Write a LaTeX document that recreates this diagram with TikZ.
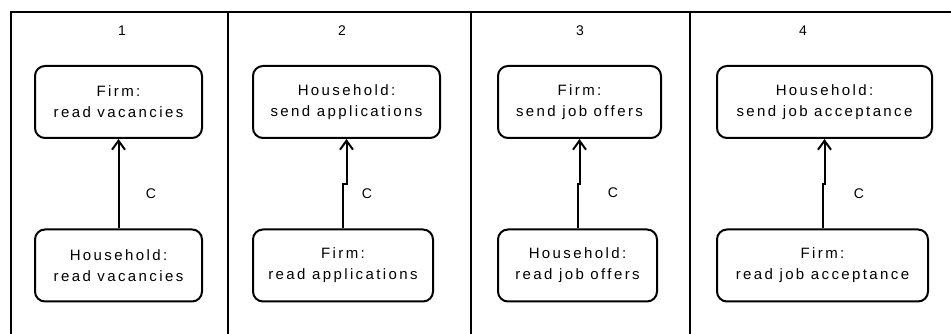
\documentclass[tikz,border=0pt]{standalone}
\usepackage{fontspec}
\setmainfont{Liberation Sans}
\newfontfamily\boxfont{Liberation Sans}[LetterSpace=16]
\usetikzlibrary{arrows.meta,calc}
\begin{document}
\begin{tikzpicture}[x=1pt,y=1pt,
  frame/.style={line width=2pt},
  taskbox/.style={draw,line width=2pt,rounded corners=10pt,minimum height=72pt,
    align=center,inner sep=0pt,font=\boxfont\fontsize{15}{21}\selectfont},
  arr/.style={line width=2pt,-{Straight Barb[length=9pt,width=13pt,line width=2pt]}},
  lbl/.style={font=\fontsize{14}{16}\selectfont,inner sep=0pt}]
\useasboundingbox (0,0) rectangle (951,334);
\clip (0,0) rectangle (951,334);
% frame
\draw[frame] (11,-10) -- (11,322) -- (970,322);
\draw[frame] (227.5,-10) -- (227.5,322);
\draw[frame] (471,-10) -- (471,322);
\draw[frame] (690,-10) -- (690,322);
% numbers
\node[lbl] (n1) at (122,303) {1};
\node[lbl] (n2) at (342,303) {2};
\node[lbl] (n3) at (580,303) {3};
\node[lbl] (n4) at (803,303) {4};
% boxes
\node[taskbox,minimum width=167pt] (t1) at (118.5,232) {Firm:\\read vacancies};
\node[taskbox,minimum width=167pt] (b1) at (118.5,68.5) {Household:\\read vacancies};
\node[taskbox,minimum width=187pt] (t2) at (346.5,232) {Household:\\send applications};
\node[taskbox,minimum width=180pt] (b2) at (343,68.5) {Firm:\\read applications};
\node[taskbox,minimum width=163pt] (t3) at (579.5,232) {Firm:\\send job offers};
\node[taskbox,minimum width=159pt] (b3) at (577.5,68.5) {Household:\\read job offers};
\node[taskbox,minimum width=215pt] (t4) at (824.5,232) {Household:\\send job acceptance};
\node[taskbox,minimum width=211pt] (b4) at (822.5,68.5) {Firm:\\read job acceptance};
% connectors
\draw[arr] (b1.north) -- (t1.south);
\draw[arr] (b2.north) |- ($(b2.north)!.5!(t2.south)$) -| (t2.south);
\draw[arr] (b3.north) |- ($(b3.north)!.5!(t3.south)$) -| (t3.south);
\draw[arr] (b4.north) |- ($(b4.north)!.5!(t4.south)$) -| (t4.south);
% labels
\node[lbl] (c1) at (151,140) {C};
\node[lbl] (c2) at (367,140) {C};
\node[lbl] (c3) at (613,141) {C};
\node[lbl] (c4) at (859,140) {C};
\end{tikzpicture}
\end{document}
